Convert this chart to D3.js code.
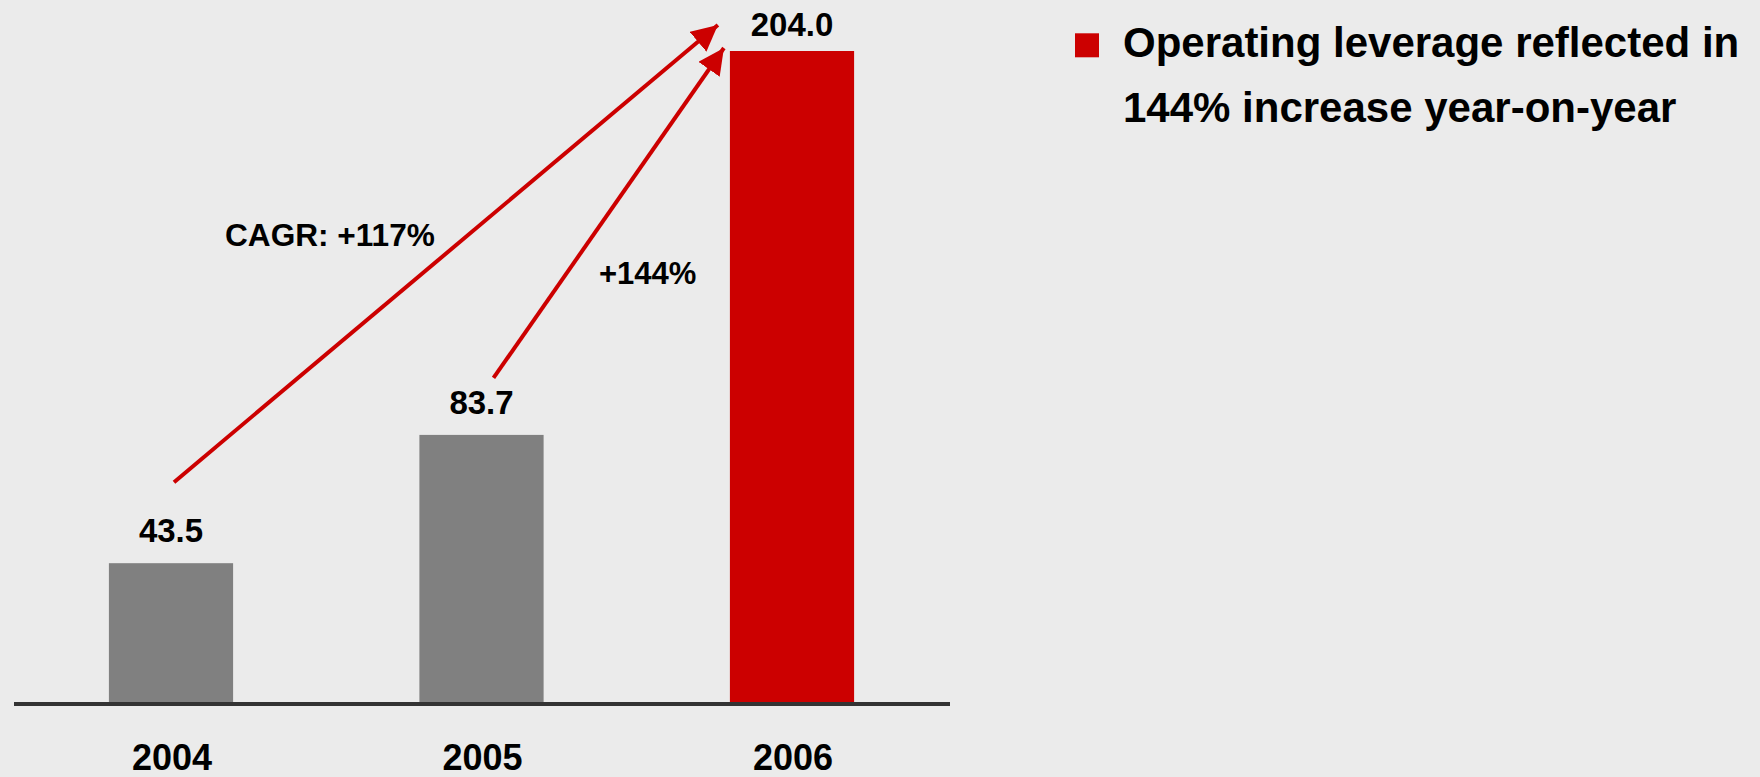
<!DOCTYPE html>
<html>
<head>
<meta charset="utf-8">
<script src="https://cdn.jsdelivr.net/npm/d3@7/dist/d3.min.js"></script>
<style>
  html, body { margin: 0; padding: 0; background: #ebebeb; }
  svg { display: block; font-family: "Liberation Sans", Arial, Helvetica, sans-serif; font-weight: bold; }
</style>
</head>
<body>
<svg id="chart" width="1760" height="777"></svg>
<script>
// ---- data ----
const years = ["2004", "2005", "2006"];
const values = [43.5, 83.7, 204.0];
const valueLabels = ["43.5", "83.7", "204.0"];
const highlight = [false, false, true];
const growthLabels = ["CAGR: +117%", "+144%"];
const growthFrom = ["2004", "2005"];
const growthTo = ["2006", "2006"];
const bulletLines = ["Operating leverage reflected in", "144% increase year-on-year"];

// ---- layout ----
const W = 1760, H = 777;
const svg = d3.select("#chart");
svg.append("rect").attr("width", W).attr("height", H).attr("fill", "#ebebeb");

const x = d3.scaleBand().domain(years).range([15.75, 947.25]).paddingInner(0.6).paddingOuter(0.3);
const y = d3.scaleLinear().domain([0, 204]).range([702, 51]);

const RED = "#cc0000", GRAY = "#808080";

// bars
svg.selectAll("rect.bar").data(years).enter().append("rect")
  .attr("class", "bar")
  .attr("x", d => x(d))
  .attr("width", x.bandwidth())
  .attr("y", (d, i) => y(values[i]))
  .attr("height", (d, i) => y(0) - y(values[i]))
  .attr("fill", (d, i) => highlight[i] ? RED : GRAY);

// baseline axis
svg.append("line")
  .attr("x1", 14).attr("x2", 950)
  .attr("y1", y(0) + 2).attr("y2", y(0) + 2)
  .attr("stroke", "#333333").attr("stroke-width", 4);

// value labels
svg.selectAll("text.val").data(years).enter().append("text")
  .attr("class", "val")
  .attr("x", d => x(d) + x.bandwidth() / 2)
  .attr("y", (d, i) => Math.max(y(values[i]) - 21, 36))
  .attr("text-anchor", "middle")
  .attr("font-size", 33)
  .attr("fill", "#000")
  .text((d, i) => valueLabels[i]);

// year labels
svg.selectAll("text.year").data(years).enter().append("text")
  .attr("class", "year")
  .attr("x", d => x(d) + x.bandwidth() / 2 + 1)
  .attr("y", y(0) + 68)
  .attr("text-anchor", "middle")
  .attr("font-size", 36)
  .attr("fill", "#000")
  .text(d => d);

// arrows
const defs = svg.append("defs");
defs.append("marker")
  .attr("id", "arrowhead")
  .attr("viewBox", "0 0 26 26")
  .attr("refX", 26).attr("refY", 13)
  .attr("markerWidth", 26).attr("markerHeight", 26)
  .attr("markerUnits", "userSpaceOnUse")
  .attr("orient", "auto")
  .append("path").attr("d", "M0,0 L26,13 L0,26 Z").attr("fill", RED);

const idx = k => years.indexOf(k);
const cx = k => x(k) + x.bandwidth() / 2;
// arrow endpoints anchored to bar positions
const arrows = [
  { x1: cx(growthFrom[0]) + 3, y1: y(values[idx(growthFrom[0])]) - 81,
    x2: x(growthTo[0]) - 12, y2: y(values[idx(growthTo[0])]) - 26 },
  { x1: cx(growthFrom[1]) + 12, y1: y(values[idx(growthFrom[1])]) - 57,
    x2: x(growthTo[1]) - 6, y2: y(values[idx(growthTo[1])]) - 3 }
];
svg.selectAll("line.arrow").data(arrows).enter().append("line")
  .attr("class", "arrow")
  .attr("x1", d => d.x1).attr("y1", d => d.y1)
  .attr("x2", d => d.x2).attr("y2", d => d.y2)
  .attr("stroke", RED).attr("stroke-width", 4)
  .attr("marker-end", "url(#arrowhead)");

// growth labels
svg.append("text").attr("x", 225).attr("y", 246)
  .attr("font-size", 31.6).attr("fill", "#000").text(growthLabels[0]);
svg.append("text").attr("x", 599).attr("y", 283.5)
  .attr("font-size", 31).attr("fill", "#000").text(growthLabels[1]);

// bullet text
svg.append("rect").attr("x", 1075).attr("y", 33.3).attr("width", 24).attr("height", 24).attr("fill", RED);
svg.selectAll("text.bullet").data(bulletLines).enter().append("text")
  .attr("class", "bullet")
  .attr("x", 1123)
  .attr("y", (d, i) => 57.3 + i * 64.4)
  .attr("font-size", 42)
  .attr("fill", "#000")
  .text(d => d);
</script>
</body>
</html>
